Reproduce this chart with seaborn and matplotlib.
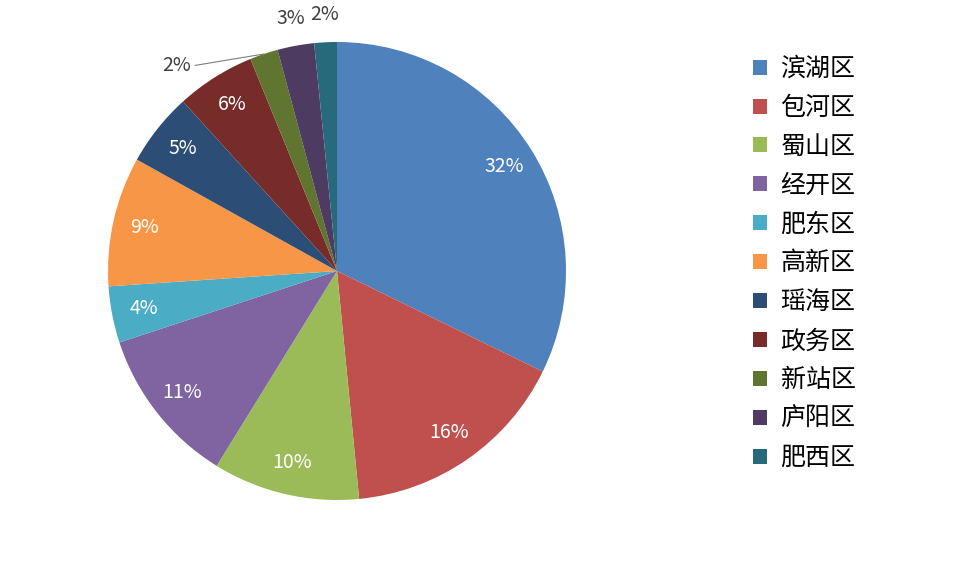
import matplotlib
matplotlib.use("Agg")
import matplotlib.pyplot as plt
import seaborn as sns
import numpy as np

# ---- data ----
districts = ['滨湖区', '包河区', '蜀山区', '经开区', '肥东区', '高新区',
             '瑶海区', '政务区', '新站区', '庐阳区', '肥西区']
shares = [32.4, 16.3, 10.4, 11.2, 4.0, 9.2, 5.2, 5.6, 2.0, 2.6, 1.6]
colors_hex = ['#4F81BD', '#C0504D', '#9BBB59', '#8064A2', '#4BACC6', '#F79646',
              '#2C4D75', '#772C2A', '#5F7530', '#4D3B62', '#276A7C']

sns.set_theme(style='white')
plt.rcParams['font.family'] = ['Noto Sans CJK SC', 'DejaVu Sans']

W, H = 960, 562
fig = plt.figure(figsize=(W / 100, H / 100), dpi=100)
fig.patch.set_facecolor('white')

cx, cy, R = 337, 271, 229
ax = fig.add_axes([(cx - R) / W, (H - cy - R) / H, 2 * R / W, 2 * R / H])
ax.axis('off')

palette = sns.color_palette(colors_hex)
wedges, _ = ax.pie(shares, colors=palette, startangle=90, counterclock=False,
                   radius=1.0, wedgeprops=dict(linewidth=0))
ax.set_xlim(-1, 1)
ax.set_ylim(-1, 1)
ax.set_aspect('equal')

total = sum(shares)
for i, w in enumerate(wedges):
    pct = shares[i] / total * 100
    txt = f'{pct:.0f}%'
    th = np.deg2rad((w.theta1 + w.theta2) / 2)
    if pct >= 3.5:
        r = 0.86
        ax.text(r * np.cos(th), r * np.sin(th), txt, ha='center', va='center',
                color='white', fontsize=14)
    else:
        if i == 8:
            x0, y0 = np.cos(th), np.sin(th)
            tx, ty = 1.02 * np.cos(th + np.deg2rad(12)) - 0.12, 1.02 * np.sin(th + np.deg2rad(12)) + 0.02
            ax.plot([x0, tx + 0.02], [y0, ty], color='#7f7f7f', lw=0.8, clip_on=False)
            ax.text(tx, ty, txt, ha='right', va='center', color='#404040', fontsize=14)
        else:
            r = 1.12
            ax.text(r * np.cos(th), r * np.sin(th), txt, ha='center', va='center',
                    color='#404040', fontsize=14)

leg = ax.legend(wedges, districts, loc='upper left',
                bbox_to_anchor=(753 / W, 1 - 56 / H), bbox_transform=fig.transFigure,
                frameon=False, fontsize=18, handlelength=0.55, handleheight=0.55,
                handletextpad=0.55, labelspacing=0.516, borderpad=0, borderaxespad=0)
for t in leg.get_texts():
    t.set_color('#000000')

fig.savefig('out.png', dpi=100, facecolor='white')
